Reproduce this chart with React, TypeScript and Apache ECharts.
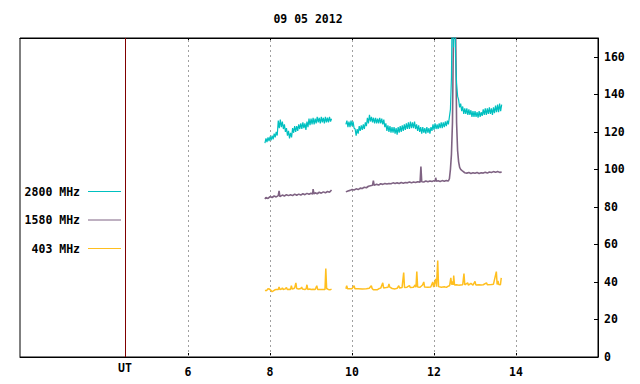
import React, { useEffect, useRef } from "react";
import * as echarts from "echarts";

const TITLE = "09 05 2012";
const X_MIN = 1.9;
const X_MAX = 16;
const X_TICKS = [6, 8, 10, 12, 14];
const UT_MARK = 4.46;
const UT_LABEL = "UT";
const Y_MIN = 0;
const Y_MAX = 170;
const Y_STEP = 20;
const SERIES_NAMES = ["2800 MHz", "1580 MHz", "403 MHz"];
const COLORS = ["#00c0c0", "#7f6383", "#ffbf1f"];
const GAP_TIME = 9.7;

// 2800 MHz, sampled every 0.025 h
const TEAL_STEP = 0.025;
const TEAL_SEG1_START = 7.875;
const TEAL_SEG1 = [
  114, 116.5, 114.5, 117, 115, 117.5, 115.5, 118, 116, 119, 117, 120, 118, 126, 122, 126.5, 122.5, 125.5,
  121.5, 124, 120, 122, 118, 120.5, 116.5, 119.5, 117, 122, 119.5, 123, 120, 123, 120.5, 124, 121.5, 124.5,
  121.5, 125, 122, 124.5, 121, 125.5, 122.5, 127, 123.5, 127, 124, 127.5, 124, 127, 124.5, 128, 125, 127.5,
  124.5, 128, 125, 127.5, 124.5, 128, 125, 127.5, 125, 128, 125.5, 127,
];
const TEAL_SEG2_START = 9.85;
const TEAL_SEG2 = [
  124, 126, 122.5, 125.5, 122.5, 126, 123, 125.5, 122, 121.5, 118, 121.5, 119, 123, 120.5, 123.5, 121, 124,
  121.5, 125, 123, 127.5, 124.5, 129, 125.5, 128, 125, 127.5, 124.5, 127.5, 124.5, 127, 124.5, 127.5, 124.5,
  127, 124, 126.5, 122.5, 124.5, 120.5, 123.5, 120, 123, 119.5, 122.5, 119.5, 122.5, 119, 122, 118.5, 122.5,
  119.5, 123, 120, 123.5, 120.5, 124, 121, 124.5, 121.5, 125, 121.5, 125.5, 122, 125, 122, 125.5, 121.5, 124,
  120.5, 123.5, 120, 122.5, 119, 122.5, 119.5, 122, 119, 122.5, 119.5, 122, 119, 122.5, 120.5, 124, 121,
  124.5, 121.5, 124, 121.5, 124.5, 122, 125, 122, 125, 122.5, 125.5, 123, 126, 124, 128, 132, 149, 200, 165,
  200, 160, 146, 139, 137, 133, 135, 131, 133.5, 129.5, 132.5, 129.5, 132.5, 129, 132, 129, 131.5, 128, 131,
  128, 131, 128, 130.5, 127.5, 131, 128, 130.5, 128.5, 132, 129, 132.5, 129, 132.5, 129.5, 133, 129.5, 132.5,
  129, 133, 130, 134, 130.5, 134.5, 130.5, 135, 131, 134.5,
];

// 1580 MHz, [UT hour, value]
const PURPLE_SEG1 = [
  [7.875, 84.2], [7.9, 85], [7.95, 84.5], [8.0, 85.5], [8.05, 85], [8.1, 85.8], [8.15, 85.3], [8.2, 86],
  [8.22, 88.5], [8.24, 85.5], [8.3, 86.3], [8.35, 85.8], [8.4, 86.5], [8.45, 86], [8.5, 86.5], [8.55, 86],
  [8.6, 86.8], [8.65, 86.2], [8.7, 86.8], [8.75, 86.3], [8.8, 87], [8.85, 86.5], [8.9, 87.2], [8.95, 86.7],
  [9.0, 87.3], [9.04, 86.8], [9.05, 89.5], [9.07, 87], [9.1, 87.5], [9.15, 87], [9.2, 87.8], [9.25, 87.3],
  [9.3, 88], [9.35, 87.5], [9.4, 88.2], [9.45, 87.8], [9.5, 89],
];
const PURPLE_SEG2 = [
  [9.85, 88], [9.9, 88.5], [9.95, 88.8], [10.0, 89.3], [10.05, 89], [10.1, 89.6], [10.15, 89.2], [10.2, 90],
  [10.25, 89.8], [10.3, 90.5], [10.35, 90.2], [10.4, 91], [10.45, 91.3], [10.5, 91.5], [10.52, 94], [10.54, 91.5],
  [10.6, 92], [10.65, 91.7], [10.7, 92.3], [10.75, 92], [10.8, 92.5], [10.85, 92.2], [10.9, 92.5], [10.95, 92.3],
  [11.0, 92.8], [11.05, 92.4], [11.1, 92.8], [11.15, 92.5], [11.2, 93], [11.25, 92.6], [11.3, 93], [11.35, 92.8],
  [11.4, 93.2], [11.45, 92.8], [11.5, 93.3], [11.55, 93], [11.6, 93.4], [11.66, 93.2], [11.68, 101.5], [11.7, 93.4],
  [11.75, 93.3], [11.8, 93.8], [11.85, 93.4], [11.9, 93.8], [11.95, 93.5], [12.0, 94], [12.03, 93.7], [12.04, 95.5],
  [12.06, 93.6], [12.1, 93.9], [12.15, 93.5], [12.2, 94], [12.25, 93.6], [12.3, 94], [12.35, 93.8], [12.375, 95],
  [12.4, 100], [12.425, 108], [12.45, 125], [12.475, 175], [12.5, 200], [12.525, 180], [12.55, 125], [12.575, 110],
  [12.6, 104], [12.625, 101], [12.65, 100], [12.7, 99], [12.75, 98.2], [12.8, 98], [12.85, 98.3], [12.9, 97.8],
  [12.95, 98.2], [13.0, 97.9], [13.05, 98.3], [13.1, 97.8], [13.15, 98.2], [13.2, 98], [13.25, 98.4], [13.3, 98],
  [13.35, 98.6], [13.4, 98.3], [13.45, 98.8], [13.5, 98.4], [13.55, 98.9], [13.6, 98.4], [13.65, 98.5],
];

// 403 MHz, [UT hour, value]
const ORANGE_SEG1 = [
  [7.875, 35.4], [7.92, 35.5], [7.95, 36.4], [7.98, 36.3], [8.02, 35.5], [8.05, 34.8], [8.08, 35.2], [8.12, 35.8],
  [8.15, 36], [8.2, 36], [8.22, 37.3], [8.24, 36], [8.28, 36.2], [8.3, 36.8], [8.32, 36], [8.37, 36.3], [8.4, 37],
  [8.42, 36], [8.47, 36.1], [8.5, 36], [8.52, 38], [8.54, 36.2], [8.58, 36.5], [8.6, 36.8], [8.63, 39.5],
  [8.65, 36.5], [8.7, 36.2], [8.75, 36.5], [8.77, 37.3], [8.79, 36.2], [8.85, 36], [8.88, 36.3], [8.9, 38.5],
  [8.92, 36], [8.97, 36.2], [9.0, 36], [9.05, 36.1], [9.1, 36], [9.14, 38], [9.16, 36], [9.2, 36], [9.25, 36],
  [9.3, 36], [9.34, 36], [9.36, 47.1], [9.38, 36.5], [9.42, 36], [9.46, 35.8], [9.5, 36.2],
];
const ORANGE_SEG2 = [
  [9.85, 36.4], [9.87, 38], [9.89, 36.4], [9.95, 36.4], [10.0, 36.4], [10.05, 38], [10.07, 36.4], [10.15, 36.4],
  [10.25, 36.3], [10.35, 36.4], [10.42, 36.6], [10.47, 38], [10.49, 36.5], [10.52, 35.8], [10.58, 35.8],
  [10.62, 35.9], [10.66, 36.5], [10.7, 36.7], [10.75, 39.5], [10.77, 36.8], [10.83, 37], [10.88, 37.2], [10.9, 39],
  [10.92, 37.2], [10.98, 36.5], [11.05, 36.3], [11.1, 36.6], [11.14, 38], [11.16, 36.8], [11.22, 37], [11.26, 45],
  [11.28, 37], [11.34, 37.2], [11.4, 38], [11.42, 37.1], [11.5, 37.2], [11.54, 38.4], [11.56, 37.2], [11.58, 45.5],
  [11.6, 37.3], [11.66, 37.2], [11.72, 38.4], [11.75, 40], [11.77, 37.3], [11.85, 37.2], [11.92, 37.3], [11.97, 40],
  [11.99, 37.3], [12.04, 41.6], [12.06, 37.5], [12.09, 51.4], [12.11, 37.5], [12.18, 37.2], [12.25, 37.4],
  [12.3, 37.1], [12.35, 37.8], [12.38, 38], [12.41, 42.2], [12.43, 38.5], [12.45, 40.3], [12.47, 38.5],
  [12.48, 43.4], [12.5, 38.4], [12.55, 38.5], [12.6, 38.3], [12.65, 38.4], [12.7, 38.5], [12.73, 44.5],
  [12.75, 38.5], [12.82, 39.5], [12.84, 38.3], [12.9, 39.2], [12.95, 38.3], [13.0, 40.3], [13.02, 38.4],
  [13.1, 38.5], [13.15, 38.4], [13.2, 38.5], [13.28, 39.5], [13.3, 38.5], [13.4, 38.6], [13.45, 38.8],
  [13.52, 45.5], [13.54, 38.6], [13.56, 40.6], [13.58, 38.6], [13.62, 38.5], [13.64, 42.2], [13.65, 42],
];

const FONT = "DejaVu Sans Mono";
const FONT_SIZE = 11.5;

function sampled(start: number, step: number, values: number[]) {
  return values.map((v, i) => [Number((start + i * step).toFixed(3)), v]);
}

function withGap(a: any[], b: any[]) {
  return [...a, [GAP_TIME, null], ...b];
}

export default function App() {
  const ref = useRef<HTMLDivElement>(null);
  useEffect(() => {
    if (!ref.current) return;
    const chart = echarts.init(ref.current, undefined, { renderer: "svg" });
    const teal = withGap(sampled(TEAL_SEG1_START, TEAL_STEP, TEAL_SEG1), sampled(TEAL_SEG2_START, TEAL_STEP, TEAL_SEG2));
    const purple = withGap(PURPLE_SEG1, PURPLE_SEG2);
    const orange = withGap(ORANGE_SEG1, ORANGE_SEG2);
    const textStyle = { fontFamily: FONT, fontSize: FONT_SIZE, fontWeight: "bold" as const, color: "#000" };
    const legendY = [191.5, 220, 248.5];

    const lineSeries = (name: string, color: string, data: any[], z: number, width: number, extra: any = {}) => ({
      type: "line",
      name,
      data,
      showSymbol: false,
      symbol: "none",
      connectNulls: false,
      clip: true,
      z,
      lineStyle: { color, width },
      itemStyle: { color },
      emphasis: { disabled: true },
      ...extra,
    });

    chart.setOption({
      animation: false,
      backgroundColor: "#fff",
      grid: { left: 20, right: 42, top: 38, bottom: 27, show: true, borderColor: "#000", borderWidth: 1, backgroundColor: "transparent" },
      xAxis: [
        {
          type: "value",
          min: X_MIN,
          max: X_MAX,
          position: "bottom",
          axisLine: { show: true, lineStyle: { color: "#000", width: 1 } },
          axisTick: { show: true, inside: true, length: 4, customValues: X_TICKS, lineStyle: { color: "#000" } },
          axisLabel: { show: true, customValues: X_TICKS, margin: 9, ...textStyle },
          splitLine: { show: false },
        },
        {
          type: "value",
          min: X_MIN,
          max: X_MAX,
          position: "top",
          axisLine: { show: true, lineStyle: { color: "#000", width: 1 } },
          axisTick: { show: true, inside: true, length: 4, customValues: X_TICKS, lineStyle: { color: "#000" } },
          axisLabel: { show: false },
          splitLine: { show: false },
        },
      ],
      yAxis: {
        type: "value",
        position: "right",
        min: Y_MIN,
        max: Y_MAX,
        interval: Y_STEP,
        axisLine: { show: true, lineStyle: { color: "#000", width: 1 } },
        axisTick: { show: true, inside: true, length: 4, lineStyle: { color: "#000" } },
        axisLabel: { show: true, margin: 6, showMaxLabel: false, ...textStyle },
        splitLine: { show: false },
      },
      series: [
        lineSeries(SERIES_NAMES[2], COLORS[2], orange, 2, 1.5, {
          markLine: {
            silent: true,
            symbol: ["none", "none"],
            label: { show: false },
            lineStyle: { color: "#a0a0a0", type: [2, 3], width: 1 },
            data: [
              ...X_TICKS.map((v) => ({ xAxis: v })),
              { xAxis: UT_MARK, lineStyle: { color: "#800000", type: "solid", width: 1 } },
            ],
            z: 1,
          },
        }),
        lineSeries(SERIES_NAMES[1], COLORS[1], purple, 3, 1.6),
        lineSeries(SERIES_NAMES[0], COLORS[0], teal, 4, 1.2),
      ],
      graphic: [
        {
          type: "text",
          x: 308,
          y: 19,
          style: { text: TITLE, align: "center", verticalAlign: "middle", fontFamily: FONT, fontSize: FONT_SIZE, fontWeight: "bold", fill: "#000" },
        },
        {
          type: "text",
          x: 125,
          y: 368,
          style: { text: UT_LABEL, align: "center", verticalAlign: "middle", fontFamily: FONT, fontSize: FONT_SIZE, fontWeight: "bold", fill: "#000" },
        },
        ...SERIES_NAMES.flatMap((name, i) => [
          {
            type: "text",
            x: 80,
            y: legendY[i],
            style: { text: name, align: "right", verticalAlign: "middle", fontFamily: FONT, fontSize: FONT_SIZE, fontWeight: "bold", fill: "#000" },
          },
          {
            type: "line",
            shape: { x1: 88, y1: legendY[i], x2: 121, y2: legendY[i] },
            style: { stroke: COLORS[i], lineWidth: 1 },
          },
        ]),
      ],
    });
    return () => chart.dispose();
  }, []);
  return <div ref={ref} style={{ position: "absolute", left: 0, top: 0, width: 640, height: 384 }} />;
}
